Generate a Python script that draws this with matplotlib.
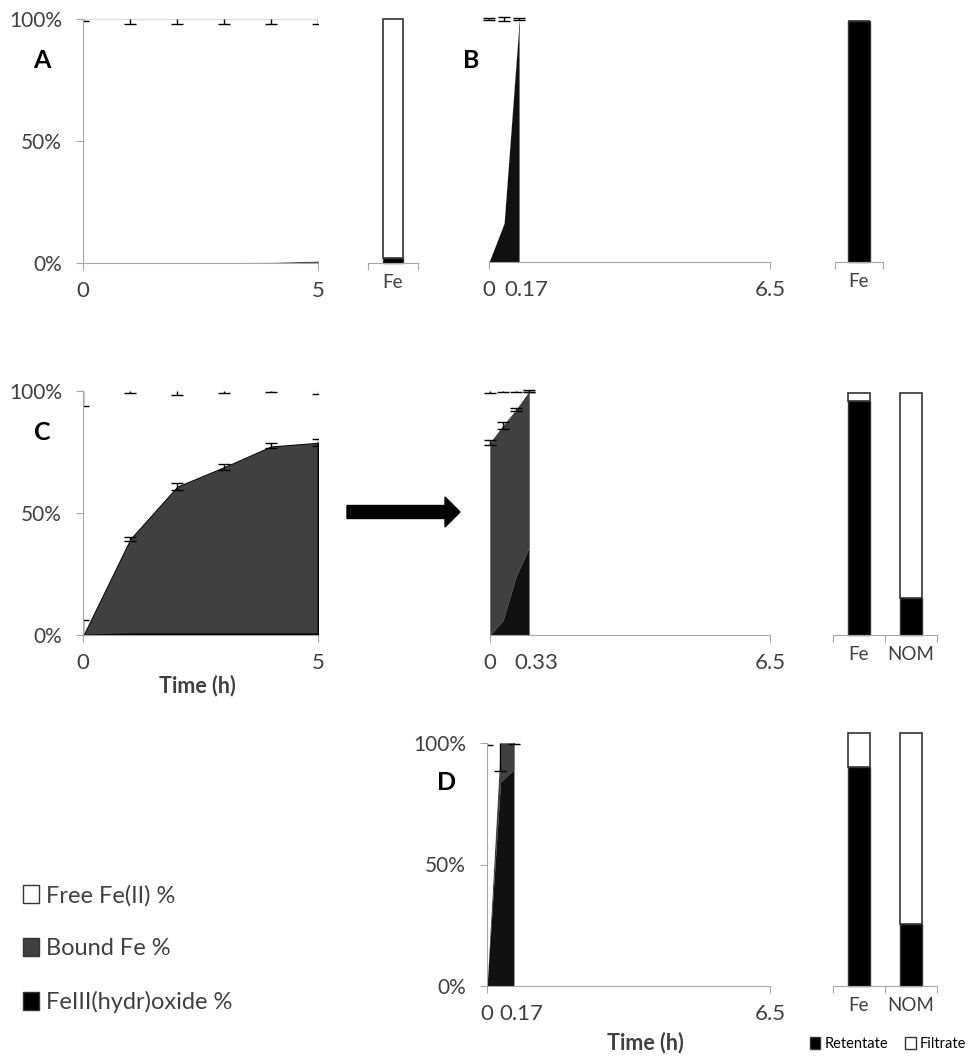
import numpy as np
import matplotlib
matplotlib.use('Agg')
import matplotlib.pyplot as plt
from matplotlib.patches import Patch, FancyArrow
from matplotlib.transforms import ScaledTranslation

plt.rcParams['font.family'] = ['Lato', 'DejaVu Sans']

W, H = 973, 1057
OXIDE = '#111111'
BOUND = '#404040'
AXIS = '#a6a6a6'
TXT = '#404040'

# --- data (percent of total Fe) ---
a_time = [0, 1, 2, 3, 4, 5]
a_oxide = [0, 0, 0, 0, 0, 0.3]
a_bound = [0, 0.1, 0.1, 0.2, 0.3, 0.5]
a_free_err = [1, 2, 2, 2, 2, 2]

b_slot = [0, 1, 2]
b_oxide = [0, 16, 98]
b_bound = [0, 0, 1]
b_free_err = [0.5, 1, 0.4]

c_time = [0, 1, 2, 3, 4, 5]
c_oxide = [0, 0.5, 0.5, 0.5, 0.5, 0.5]
c_bound = [0, 39, 60.5, 68.5, 77, 78.5]
c_bound_err = [6, 0.8, 1.5, 1.2, 1.0, 1.5]
c_free_err = [6, 0.8, 1.5, 0.8, 0.6, 1.2]

c2_slot = [0, 1, 2, 3]
c2_oxide = [0, 6, 24, 36]
c2_bound = [79, 80, 68.5, 64]
c2_bound_err = [1, 1.5, 0.7, 0.5]
c2_free_err = [1, 0.5, 0.5, 0.5]

d_slot = [0, 1, 2]
d_oxide = [0, 84, 89]
d_bound = [0, 16, 11]
d_err = [1, 11.5, 0.3]

bar_cats_1 = ['Fe']
bar_cats_2 = ['Fe', 'NOM']
barA_ret, barA_fil = [2], [98]
barB_ret, barB_fil = [99], [0]
barC_ret, barC_fil = [96, 15], [3, 84]
barD_ret, barD_fil = [90, 25.5], [14, 78.5]

fig = plt.figure(figsize=(W / 100, H / 100), dpi=100)


def add_ax(x0, x1, y100, y0):
    return fig.add_axes([x0 / W, 1 - y0 / H, (x1 - x0) / W, (y0 - y100) / H])


def style_time(ax, xmax, ticklabels, show_y=True):
    ax.set_ylim(0, 100)
    ax.set_xlim(0, xmax)
    for s in ['top', 'right']:
        ax.spines[s].set_visible(False)
    ax.spines['bottom'].set_color(AXIS)
    ax.spines['left'].set_color(AXIS)
    if show_y:
        ax.set_yticks([0, 50, 100], ['0%', '50%', '100%'])
    else:
        ax.spines['left'].set_visible(False)
        ax.set_yticks([])
    ax.tick_params(axis='y', length=5, color=AXIS, labelcolor=TXT,
                   labelsize=15, pad=10)
    ax.set_xticks([0, xmax], [ticklabels[0], ticklabels[-1]])
    ax.tick_params(axis='x', length=5, color=AXIS, labelcolor=TXT,
                   labelsize=16, pad=8)
    if len(ticklabels) == 3:
        pos, lab = ticklabels[1]
        ax.set_xticks([pos], [lab], minor=True)
        ax.tick_params(axis='x', which='minor', length=0, labelcolor=TXT,
                       labelsize=16, pad=13)
        shift = ScaledTranslation(7 / 100, 0, fig.dpi_scale_trans)
        for t in ax.xaxis.get_minorticklabels():
            t.set_transform(t.get_transform() + shift)


def stack(ax, x, oxide, bound, outline=False):
    ox = np.array(oxide, float)
    bd = ox + np.array(bound, float)
    ax.fill_between(x, 0, ox, color=OXIDE, lw=0)
    ax.fill_between(x, ox, bd, facecolor=BOUND,
                    edgecolor='black' if outline else BOUND,
                    lw=1.3 if outline else 0.3)
    ax.fill_between(x, bd, 100, color='white', lw=0)
    return bd


def err_down(ax, x, top, lo, clip=True):
    top = np.broadcast_to(np.array(top, float), (len(x),))
    ax.vlines(x, top - np.array(lo), top, color='black', lw=1, clip_on=clip)
    ax.plot(x, top - np.array(lo), ls='none', marker='_', ms=9, mew=1,
            color='black', clip_on=clip)


def err_both(ax, x, y, e, clip=True):
    ax.errorbar(x, y, yerr=e, fmt='none', ecolor='black', elinewidth=1,
                capsize=4, capthick=1, clip_on=clip)


def style_bar(ax, cats):
    n = len(cats)
    ax.set_xlim(-0.5, n - 0.5)
    ax.set_ylim(0, 100)
    for s in ['top', 'right', 'left']:
        ax.spines[s].set_visible(False)
    ax.spines['bottom'].set_color(AXIS)
    ax.set_yticks([])
    ax.set_xticks(np.arange(n + 1) - 0.5, [''] * (n + 1))
    ax.tick_params(axis='x', length=5, color=AXIS)
    ax.set_xticks(np.arange(n), cats, minor=True)
    ax.tick_params(axis='x', which='minor', length=0, labelcolor=TXT,
                   labelsize=13.5, pad=8)


def bars(ax, cats, ret, fil, width):
    x = np.arange(len(cats))
    ax.bar(x, ret, width, color='black', edgecolor='#333333', lw=1,
           clip_on=False)
    ax.bar(x, fil, width, bottom=ret, color='white', edgecolor='#333333',
           lw=1.2, clip_on=False)


# --- A ---
axA = add_ax(83, 318, 19, 263)
style_time(axA, 5, ['0', '5'])
stack(axA, a_time, a_oxide, a_bound)
axA.axhline(100, color='#dddddd', lw=1)
err_down(axA, a_time, 100, a_free_err)

axAb = add_ax(368, 418, 19, 263)
style_bar(axAb, bar_cats_1)
bars(axAb, bar_cats_1, barA_ret, barA_fil, 0.4)

# --- B ---
axB = add_ax(489, 770, 19, 262)
style_time(axB, 18.7, ['0', (2, '0.17'), '6.5'], show_y=False)
stack(axB, b_slot, b_oxide, b_bound)
err_both(axB, b_slot, [100] * 3, b_free_err, clip=False)

axBb = add_ax(835, 883, 19, 262)
style_bar(axBb, bar_cats_1)
bars(axBb, bar_cats_1, barB_ret, barB_fil, 0.46)

# --- C ---
axC = add_ax(83, 318, 391, 635)
style_time(axC, 5, ['0', '5'])
topC = stack(axC, c_time, c_oxide, c_bound, outline=True)
err_both(axC, c_time, topC, c_bound_err)
err_down(axC, c_time, 100, c_free_err)

axC2 = add_ax(490, 770, 391, 635)
style_time(axC2, 21.5, ['0', (3, '0.33'), '6.5'], show_y=False)
topC2 = stack(axC2, c2_slot, c2_oxide, c2_bound)
err_both(axC2, c2_slot, topC2, c2_bound_err, clip=False)
err_down(axC2, c2_slot, 100, c2_free_err, clip=False)

axCb = add_ax(833, 937, 391, 635)
style_bar(axCb, bar_cats_2)
bars(axCb, bar_cats_2, barC_ret, barC_fil, 0.42)

# --- D ---
axD = add_ax(487, 770, 743, 986)
style_time(axD, 21, ['0', (2, '0.17'), '6.5'])
stack(axD, d_slot, d_oxide, d_bound)
err_down(axD, d_slot, 100, d_err)

axDb = add_ax(833, 937, 743, 986)
style_bar(axDb, bar_cats_2)
bars(axDb, bar_cats_2, barD_ret, barD_fil, 0.42)

# panel letters and axis titles
for lab, x, y in [('A', 42, 60), ('B', 471, 60), ('C', 42, 433), ('D', 447, 783)]:
    fig.text(x / W, 1 - y / H, lab, fontsize=18, fontweight='bold',
             ha='center', va='center', color='black')
for x, y in [(197, 686), (645, 1043)]:
    fig.text(x / W, 1 - y / H, 'Time (h)', fontsize=15.5, fontweight='bold',
             ha='center', va='center', color=TXT)

# arrow between C panels
fig.patches.append(FancyArrow(347 / W, 1 - 512 / H, (460 - 347) / W, 0,
                              width=13 / H, head_width=30 / H,
                              head_length=15 / W, length_includes_head=True,
                              color='black', transform=fig.transFigure))

# legends
fig.legend([Patch(fc='white', ec='#333333'), Patch(fc=BOUND, ec='#333333'),
            Patch(fc='black', ec='#333333')],
           ['Free Fe(II) %', 'Bound Fe %', 'FeIII(hydr)oxide %'],
           loc='upper left', bbox_to_anchor=(11 / W, 1 - 873 / H),
           frameon=False, fontsize=17, labelspacing=1.35, handlelength=0.7,
           handleheight=0.75, handletextpad=0.3, borderpad=0, labelcolor=TXT)
fig.legend([Patch(fc='black', ec='#333333'), Patch(fc='white', ec='#333333')],
           ['Retentate', 'Filtrate'], loc='center',
           bbox_to_anchor=(888 / W, 1 - 1044 / H), ncol=2, frameon=False,
           fontsize=10.5, handlelength=0.7, handleheight=0.9, handletextpad=0.3,
           columnspacing=1.2, borderpad=0, labelcolor='black')

fig.savefig('out.png', dpi=100)
